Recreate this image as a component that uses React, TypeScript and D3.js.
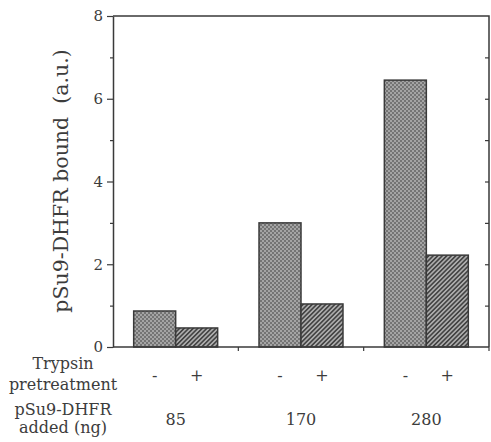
import React, { useEffect, useRef } from "react";
import * as d3 from "d3";

const groups = ["85", "170", "280"];
const treatments = ["-", "+"];
const untreated = [0.87, 3.0, 6.45];
const trypsin = [0.46, 1.04, 2.22];
const majorTicks = [0, 2, 4, 6, 8];
const minorTicks = [1, 3, 5, 7];
const innerTicks = [1, 2, 3, 4, 5, 6, 7];

const App = () => {
  const ref = useRef<SVGSVGElement>(null);

  useEffect(() => {
    const width = 491;
    const height = 442;
    const left = 113;
    const right = 489;
    const top = 16;
    const bottom = 347;
    const ink = "#3a3a3a";
    const textInk = "#3c3c3c";
    const font = "'DejaVu Serif', serif";

    const svg = d3.select(ref.current);
    svg.selectAll("*").remove();
    svg.attr("width", width).attr("height", height);

    svg.append("rect").attr("width", width).attr("height", height).attr("fill", "#fff");

    // Patterns for the two bar types
    const defs = svg.append("defs");
    const stip = defs
      .append("pattern")
      .attr("id", "stipple")
      .attr("width", 4)
      .attr("height", 4)
      .attr("patternUnits", "userSpaceOnUse");
    stip.append("rect").attr("width", 4).attr("height", 4).attr("fill", "#a4a4a4");
    stip.append("rect").attr("width", 2).attr("height", 2).attr("fill", "#747474");
    stip.append("rect").attr("x", 2).attr("y", 2).attr("width", 2).attr("height", 2).attr("fill", "#747474");

    const hatch = defs
      .append("pattern")
      .attr("id", "hatch")
      .attr("width", 3.2)
      .attr("height", 3.2)
      .attr("patternUnits", "userSpaceOnUse")
      .attr("patternTransform", "rotate(45)");
    hatch.append("rect").attr("width", 3.2).attr("height", 3.2).attr("fill", "#acacac");
    hatch.append("rect").attr("width", 1.6).attr("height", 3.2).attr("fill", "#444");

    const x = d3
      .scaleBand()
      .domain(groups)
      .range([left, right])
      .paddingInner(0.33)
      .paddingOuter(0.165);
    const x2 = d3.scaleBand().domain(treatments).range([0, x.bandwidth()]);
    const y = d3.scaleLinear().domain([0, 8]).range([bottom, top]);

    // Bars
    const series = [untreated, trypsin];
    groups.forEach((g, gi) => {
      treatments.forEach((t, ti) => {
        const v = series[ti][gi];
        svg
          .append("rect")
          .attr("x", (x(g) as number) + (x2(t) as number))
          .attr("y", y(v))
          .attr("width", x2.bandwidth())
          .attr("height", y(0) - y(v))
          .attr("fill", ti === 0 ? "url(#stipple)" : "url(#hatch)")
          .attr("stroke", ink)
          .attr("stroke-width", 1.5);
      });
    });

    // Frame: top and right
    svg
      .append("path")
      .attr("d", `M${left},${top}H${right}V${bottom}`)
      .attr("fill", "none")
      .attr("stroke", ink)
      .attr("stroke-width", 1.5);

    // Left axis
    const yAxis = svg.append("g").attr("transform", `translate(${left},0)`);
    yAxis.call(
      d3.axisLeft(y).tickValues(majorTicks).tickSize(6).tickSizeOuter(0).tickPadding(4)
    );
    yAxis.select(".domain").attr("stroke", ink).attr("stroke-width", 1.5);
    yAxis.selectAll(".tick line").attr("stroke", ink).attr("stroke-width", 1.2);
    yAxis
      .selectAll(".tick text")
      .attr("font-family", font)
      .attr("font-size", 15)
      .attr("fill", textInk);

    const yMinor = svg.append("g").attr("transform", `translate(${left},0)`);
    yMinor.call(d3.axisLeft(y).tickValues(minorTicks).tickSize(3).tickFormat(() => ""));
    yMinor.select(".domain").remove();
    yMinor.selectAll(".tick line").attr("stroke", ink).attr("stroke-width", 1.2);

    // Right inner ticks
    const yRight = svg.append("g").attr("transform", `translate(${right},0)`);
    yRight.call(d3.axisLeft(y).tickValues(innerTicks).tickSize(4).tickFormat(() => ""));
    yRight.select(".domain").remove();
    yRight.selectAll(".tick line").attr("stroke", ink).attr("stroke-width", 1.2);

    // Bottom axis with ticks at group boundaries
    svg
      .append("line")
      .attr("x1", left)
      .attr("x2", right)
      .attr("y1", bottom)
      .attr("y2", bottom)
      .attr("stroke", ink)
      .attr("stroke-width", 1.5);
    groups.forEach((g, i) => {
      const bx = left + x.step() * (i + 1);
      svg
        .append("line")
        .attr("x1", bx)
        .attr("x2", bx)
        .attr("y1", bottom)
        .attr("y2", bottom + 4)
        .attr("stroke", ink)
        .attr("stroke-width", 1.2);
    });

    // Y label
    svg
      .append("text")
      .attr("transform", `translate(68, 181) rotate(-90)`)
      .attr("text-anchor", "middle")
      .attr("font-family", font)
      .attr("font-size", 20.5)
      .attr("fill", textInk)
      .style("white-space", "pre")
      .text("pSu9-DHFR bound  (a.u.)");

    // Row labels
    const rowLabels = [
      { text: "Trypsin", y: 369 },
      { text: "pretreatment", y: 390 },
      { text: "pSu9-DHFR", y: 415 },
      { text: "added (ng)", y: 433 },
    ];
    rowLabels.forEach((r) => {
      svg
        .append("text")
        .attr("x", 63)
        .attr("y", r.y)
        .attr("text-anchor", "middle")
        .attr("font-family", font)
        .attr("font-size", 16)
        .attr("fill", textInk)
        .text(r.text);
    });

    // Treatment signs and amounts
    groups.forEach((g) => {
      treatments.forEach((t) => {
        svg
          .append("text")
          .attr("x", (x(g) as number) + (x2(t) as number) + x2.bandwidth() / 2)
          .attr("y", 381)
          .attr("text-anchor", "middle")
          .attr("font-family", font)
          .attr("font-size", 16)
          .attr("fill", textInk)
          .text(t);
      });
      svg
        .append("text")
        .attr("x", (x(g) as number) + x.bandwidth() / 2)
        .attr("y", 425)
        .attr("text-anchor", "middle")
        .attr("font-family", font)
        .attr("font-size", 16)
        .attr("fill", textInk)
        .text(g);
    });
  }, []);

  return <svg ref={ref} style={{ position: "absolute", left: 0, top: 0 }}></svg>;
};

export default App;
